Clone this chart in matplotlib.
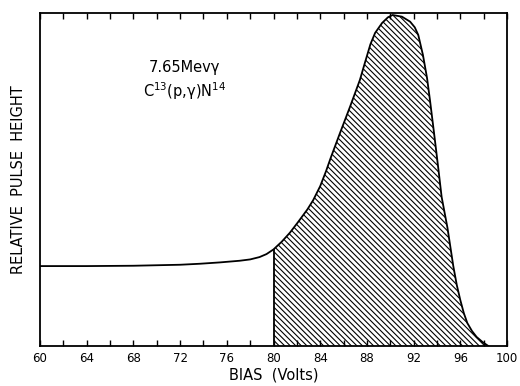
import matplotlib
matplotlib.use("Agg")
import matplotlib.pyplot as plt
import numpy as np

# Data (bias in volts, relative pulse height 0-100)
bias = [60, 64, 68, 72, 73.7, 75.4, 77.1, 78.0, 78.8, 79.4, 80.0, 80.7, 81.4,
        82.1, 82.9, 83.4, 84.0, 84.5, 84.9, 85.7, 86.55, 87.4, 87.85, 88.3,
        88.7, 89.3, 89.8, 90.2, 91.0, 91.7, 92.1, 92.4, 92.8, 93.15, 93.4,
        93.75, 94.1, 94.4, 94.9, 95.4, 95.7, 96.0, 96.3, 96.6, 97.0, 97.4,
        97.9, 98.4]
height = [24.0, 24.0, 24.1, 24.4, 24.7, 25.1, 25.6, 26.0, 26.7, 27.6, 29.0, 31.3,
          34.0, 37.2, 41.0, 43.8, 48.0, 52.5, 56.5, 64.0, 71.8, 79.9, 85.3, 90.6,
          94.0, 97.0, 98.7, 99.4, 98.9, 97.4, 95.7, 93.4, 87.4, 80.5, 73.9,
          64.0, 53.8, 44.8, 35.5, 24.0, 18.3, 13.8, 9.9, 6.9, 4.5, 2.7,
          1.2, 0.0]
xticks = [60, 64, 68, 72, 76, 80, 84, 88, 92, 96, 100]
cut = 80.0

x = np.array(bias)
y = np.array(height)

plt.rcParams['hatch.linewidth'] = 0.8
fig = plt.figure(figsize=(5.2, 3.86), dpi=100)
ax = fig.add_axes([40/520, 40/386, (507-40)/520, (346-13)/386])

ax.plot(x, y, color='black', lw=1.3, solid_joinstyle='round')
m = x >= cut
ax.fill_between(x[m], y[m], 0, facecolor='none', edgecolor='black',
                hatch='\\' * 6, linewidth=0)
y_cut = y[x == cut][0]
ax.vlines(cut, 0, y_cut, color='black', lw=1.3)

ax.set_xlim(60, 100)
ax.set_ylim(0, 100)
ax.set_xticks(np.arange(60, 101, 2), minor=True)
ax.set_xticks(xticks)
ax.set_xticklabels([str(t) for t in xticks], fontsize=8.5)
ax.set_yticks([])
ax.tick_params(axis='x', which='both', direction='in', top=True, length=4,
               width=1, pad=4)
for s in ax.spines.values():
    s.set_linewidth(1.3)

ax.set_xlabel('BIAS  (Volts)', fontsize=10.5, labelpad=2)
ax.set_ylabel('RELATIVE  PULSE  HEIGHT', fontsize=10.5, labelpad=10)

ax.text(0.31, 0.835, '7.65Mev\u03b3', transform=ax.transAxes, fontsize=10.5,
        ha='center', va='center')
ax.text(0.31, 0.766, 'C$^{13}$(p,\u03b3)N$^{14}$', transform=ax.transAxes,
        fontsize=10.5, ha='center', va='center')

fig.savefig('out.png', dpi=100)
